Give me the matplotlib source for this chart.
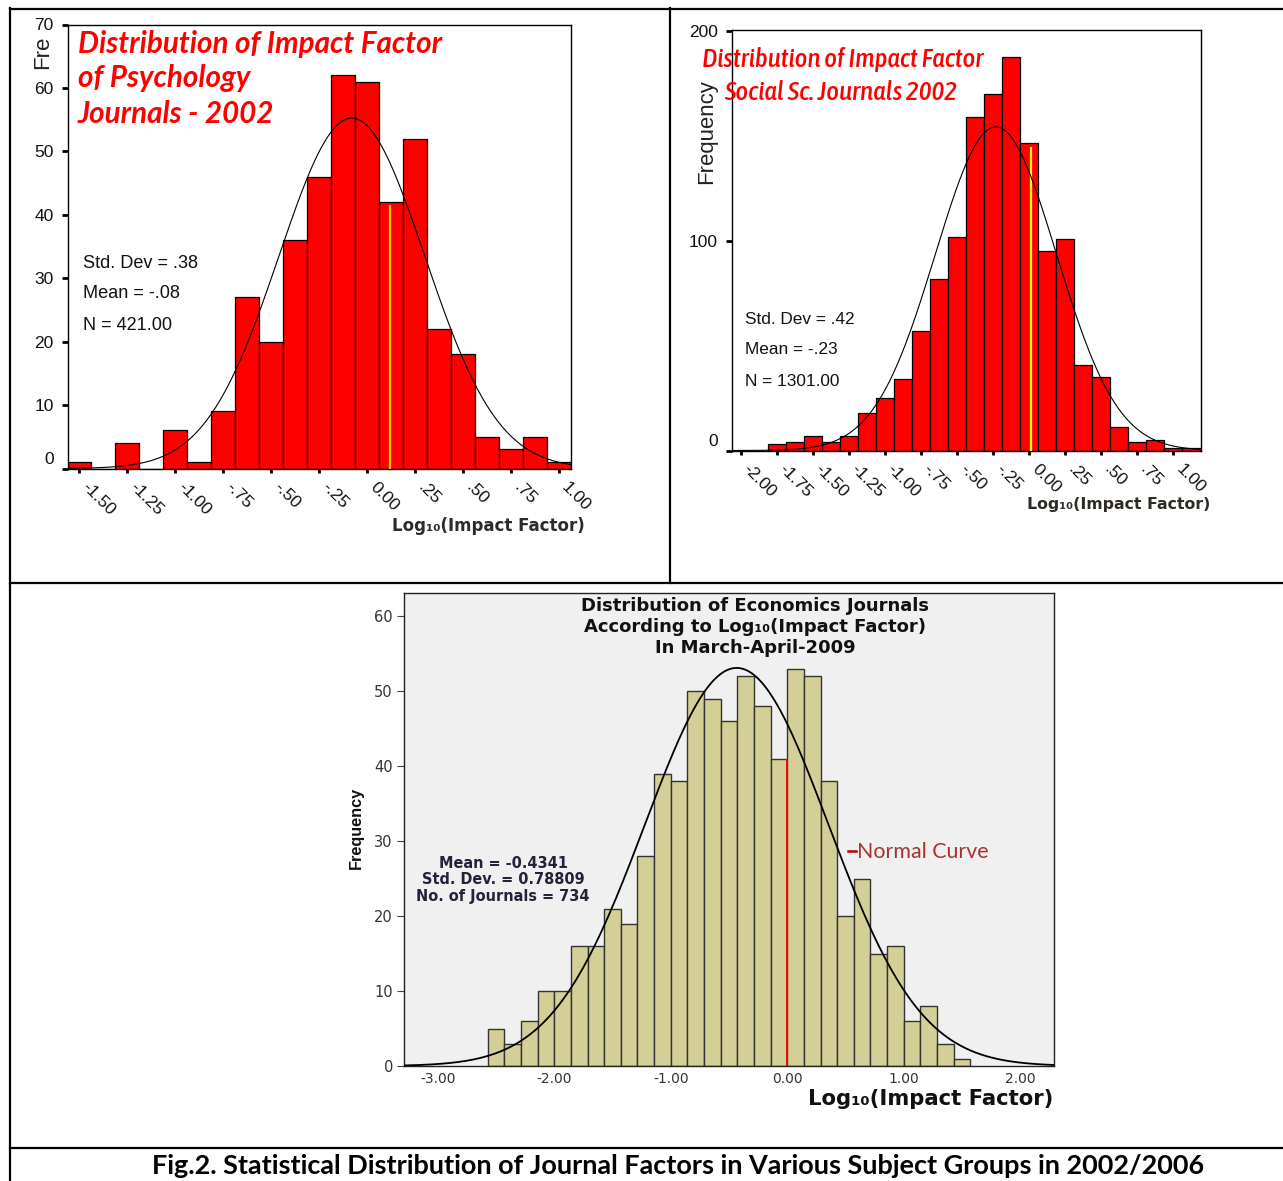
import numpy as np
import matplotlib
matplotlib.use('Agg')
import matplotlib.pyplot as plt
from matplotlib.lines import Line2D
import matplotlib.transforms as mtransforms
from matplotlib import font_manager as fm

W, H = 1283, 1181
DPI = 100

# ------------------------------------------------------------------ data
# Psychology journals 2002 (top left)
psych_first_center = -1.5
psych_bin_width = 0.125
psych_counts = [1, 0, 4, 0, 6, 1, 9, 27, 20, 36, 46, 62, 61, 42, 52, 22, 18, 5, 3, 5, 1]
psych_mean, psych_sd, psych_n = -0.08, 0.38, 421
psych_xticks = [-1.5, -1.25, -1.0, -0.75, -0.5, -0.25, 0.0, 0.25, 0.5, 0.75, 1.0]
psych_xticklabels = ["-1.50", "-1.25", "-1.00", "-.75", "-.50", "-.25", "0.00", ".25", ".50", ".75", "1.00"]
psych_yticks = [0, 10, 20, 30, 40, 50, 60, 70]
psych_marker_x, psych_marker_h = 0.12, 41.5
psych_title = ["Distribution of Impact Factor", "of Psychology", "Journals - 2002"]
psych_stats = ["Std. Dev = .38", "Mean = -.08", "N = 421.00"]

# Social science journals 2002 (top right)
soc_first_center = -2.0
soc_bin_width = 0.125
soc_counts = [0, 0, 3, 4, 7, 4, 7, 18, 25, 34, 57, 82, 102, 159, 170, 188, 147, 95, 101,
              41, 35, 11, 4, 5, 1, 1]
soc_mean, soc_sd, soc_n = -0.23, 0.42, 1301
soc_xticks = [-2.0, -1.75, -1.5, -1.25, -1.0, -0.75, -0.5, -0.25, 0.0, 0.25, 0.5, 0.75, 1.0]
soc_xticklabels = ["-2.00", "-1.75", "-1.50", "-1.25", "-1.00", "-.75", "-.50", "-.25",
                   "0.00", ".25", ".50", ".75", "1.00"]
soc_yticks = [0, 100, 200]
soc_marker_x, soc_marker_h = 0.01, 145
soc_title = ["Distribution of Impact Factor", "Social Sc. Journals 2002"]
soc_stats = ["Std. Dev = .42", "Mean = -.23", "N = 1301.00"]

# Economics journals 2009 (bottom)
econ_first_edge = -18 / 7
econ_bin_width = 1 / 7
econ_counts = [5, 3, 6, 10, 10, 16, 16, 21, 19, 28, 39, 38, 50, 49, 46, 52, 48, 41, 53, 52,
               38, 20, 25, 15, 16, 6, 8, 3, 1]
econ_mean, econ_sd, econ_n = -0.4341, 0.78809, 734
econ_xticks = [-3, -2, -1, 0, 1, 2]
econ_xticklabels = ["-3.00", "-2.00", "-1.00", "0.00", "1.00", "2.00"]
econ_yticks = [0, 10, 20, 30, 40, 50, 60]
econ_marker_x, econ_marker_h = 0.0, 41
econ_title = ["Distribution of Economics Journals", "According to Log\u2081\u2080(Impact Factor)",
              "In March-April-2009"]
econ_stats = ["Mean = -0.4341", "Std. Dev. = 0.78809", "No. of Journals = 734"]

xlabel_text = "Log\u2081\u2080(Impact Factor)"
caption = "Fig.2. Statistical Distribution of Journal Factors in Various Subject Groups in 2002/2006"

# ------------------------------------------------------------------ fonts
def pick_condensed_italic():
    best = None
    for f in fm.fontManager.ttflist:
        st = str(f.stretch).lower()
        nm = f.name.lower()
        cond = (st in ('condensed', 'extra-condensed', 'ultra-condensed', 'semi-condensed')
                or 'narrow' in nm or 'condensed' in nm)
        if not cond or f.style not in ('italic', 'oblique'):
            continue
        w = f.weight
        if isinstance(w, str):
            w = fm.weight_dict.get(w, 400)
        score = abs(w - 500)
        if 'semi' in st:
            score += 150
        if best is None or score < best[0]:
            best = (score, f.fname)
    return best[1] if best else None


cond_path = pick_condensed_italic()


def cond_props(size):
    if cond_path:
        return fm.FontProperties(fname=cond_path, size=size)
    return fm.FontProperties(family='Liberation Sans', style='italic', size=size)


# ------------------------------------------------------------------ helpers
fig = plt.figure(figsize=(W / DPI, H / DPI), dpi=DPI)
fig.patch.set_facecolor('white')
renderer = fig.canvas.get_renderer()


def rect(l, t, r, b):
    return [l / W, 1 - b / H, (r - l) / W, (b - t) / H]


def ftext(x, y, s, width=None, vertical=False, **kw):
    t = fig.text(x / W, 1 - y / H, s, **kw)
    if width:
        bb = t.get_window_extent(renderer)
        cur = bb.height if vertical else bb.width
        t.set_fontsize(t.get_fontsize() * width / cur)
    return t


def hline(y, x0, x1, lw=1.6):
    fig.add_artist(Line2D([x0 / W, x1 / W], [1 - y / H, 1 - y / H], color='black', lw=lw,
                          transform=fig.transFigure))


def vline(x, y0, y1, lw=1.6):
    fig.add_artist(Line2D([x / W, x / W], [1 - y0 / H, 1 - y1 / H], color='black', lw=lw,
                          transform=fig.transFigure))


def normal_curve(ax, mean, sd, n, bw, lw, color='black'):
    x0, x1 = ax.get_xlim()
    xs = np.linspace(x0, x1, 500)
    ys = n * bw * np.exp(-0.5 * ((xs - mean) / sd) ** 2) / (sd * np.sqrt(2 * np.pi))
    ax.plot(xs, ys, color=color, lw=lw, zorder=4)


def shift_label(lbl, dx_px, dy_px):
    lbl.set_transform(lbl.get_transform() +
                      mtransforms.ScaledTranslation(dx_px / DPI, dy_px / DPI, fig.dpi_scale_trans))


# ------------------------------------------------------------------ table lines
hline(8.5, 10, W)
vline(10, 8, H)
vline(670, 8, 583.5)
hline(583.5, 10, W)
hline(1147.5, 10, W)


def top_panel(rect_px, first_center, bw, counts, xticks, xticklabels, yticks, ylim,
              marker_x, marker_h, marker_color, mean, sd, n):
    ax = fig.add_axes(rect(*rect_px))
    centers = first_center + bw * np.arange(len(counts))
    ax.bar(centers, counts, width=bw, color='#ff0000', edgecolor='black', linewidth=0.9, zorder=2)
    ax.set_xlim(first_center - bw / 2, centers[-1] + bw / 2)
    ax.set_ylim(*ylim)
    normal_curve(ax, mean, sd, n, bw, lw=0.8)
    ax.vlines(marker_x, 0, marker_h, color=marker_color, lw=1.6, zorder=3)
    for s in ax.spines.values():
        s.set_linewidth(1.0)
    ax.set_yticks(yticks)
    ax.set_yticklabels([str(v) for v in yticks], fontfamily='Liberation Sans', fontsize=12.5,
                       color='#111111')
    ax.set_xticks(xticks)
    ax.set_xticklabels(xticklabels, fontfamily='Liberation Sans', fontsize=12.5, color='#111111')
    ax.tick_params(axis='y', direction='out', length=4, width=2, pad=6)
    ax.tick_params(axis='x', direction='out', length=3, width=2, pad=9)
    for lbl in ax.get_xticklabels():
        lbl.set_rotation(-45)
        lbl.set_rotation_mode('anchor')
        lbl.set_ha('left')
        lbl.set_va('center')
        shift_label(lbl, 5, 0)
    shift_label(ax.get_yticklabels()[0], 0, 11)
    return ax


# ------------------------------------------------------------------ top left
top_panel((67.5, 24.5, 571, 468.5), psych_first_center, psych_bin_width, psych_counts,
          psych_xticks, psych_xticklabels, psych_yticks, (0, 70),
          psych_marker_x, psych_marker_h, '#ffcc00', psych_mean, psych_sd, psych_n)

ftext(43, 52, "Fre", rotation=90, ha='center', va='center', fontfamily='Liberation Sans',
      fontsize=16, color='#222222')
t = ftext(78, 44, psych_title[0], width=364, ha='left', va='center', fontfamily='Lato',
          fontweight='bold', fontstyle='italic', fontsize=18.5, color='#ff0000')
title_size = t.get_fontsize()
for line, y in zip(psych_title[1:], [78, 114]):
    ftext(78, y, line, ha='left', va='center', fontfamily='Lato', fontweight='bold',
          fontstyle='italic', fontsize=title_size, color='#ff0000')
t = ftext(83, 263, psych_stats[0], width=115, ha='left', va='center',
          fontfamily='Liberation Sans', fontsize=12, color='#111111')
for line, y in zip(psych_stats[1:], [294, 326]):
    ftext(83, y, line, ha='left', va='center', fontfamily='Liberation Sans',
          fontsize=t.get_fontsize(), color='#111111')
ftext(392, 526, xlabel_text, width=192, ha='left', va='center', fontfamily='DejaVu Sans',
      fontweight='bold', fontsize=11, color='#2e2a25')

# ------------------------------------------------------------------ top right
top_panel((731.5, 30, 1200.5, 450.5), soc_first_center, soc_bin_width, soc_counts,
          soc_xticks, soc_xticklabels, soc_yticks, (0, 200.7),
          soc_marker_x, soc_marker_h, '#ffff00', soc_mean, soc_sd, soc_n)

ftext(707, 132, "Frequency", width=105, vertical=True, rotation=90, ha='center', va='center',
      fontfamily='Liberation Sans', fontsize=16, color='#222222')
t = ftext(702, 60, soc_title[0], width=281, ha='left', va='center',
          fontproperties=cond_props(18), color='#ff0000')
ftext(724, 92, soc_title[1], ha='left', va='center',
      fontproperties=cond_props(t.get_fontsize()), color='#ff0000')
t = ftext(745, 320, soc_stats[0], width=110, ha='left', va='center',
          fontfamily='Liberation Sans', fontsize=12, color='#111111')
for line, y in zip(soc_stats[1:], [349, 381]):
    ftext(745, y, line, ha='left', va='center', fontfamily='Liberation Sans',
          fontsize=t.get_fontsize(), color='#111111')
ftext(1027, 504, xlabel_text, width=182, ha='left', va='center', fontfamily='DejaVu Sans',
      fontweight='bold', fontsize=11, color='#2e2a25')

# ------------------------------------------------------------------ bottom
ax3 = fig.add_axes(rect(404, 593, 1054, 1066))
ax3.set_facecolor('#f0f0f0')
edges = econ_first_edge + econ_bin_width * np.arange(len(econ_counts))
ax3.bar(edges, econ_counts, width=econ_bin_width, align='edge', color='#d4cf96',
        edgecolor='#333333', linewidth=1.0, zorder=2)
ax3.set_xlim(-3.29, 2.29)
ax3.set_ylim(0, 63.07)
normal_curve(ax3, econ_mean, econ_sd, econ_n, econ_bin_width, lw=1.3)
ax3.vlines(econ_marker_x, 0, econ_marker_h, color='#ff0000', lw=1.4, zorder=3)
for s in ax3.spines.values():
    s.set_linewidth(1.0)
    s.set_color('#222222')
ax3.set_xticks(econ_xticks)
ax3.set_xticklabels(econ_xticklabels, fontfamily='DejaVu Sans', fontsize=10, color='#333333')
ax3.set_yticks(econ_yticks)
ax3.set_yticklabels([str(v) for v in econ_yticks], fontfamily='DejaVu Sans', fontsize=10.5,
                    color='#333333')
ax3.tick_params(axis='y', direction='out', length=5, width=0.8, pad=3, color='#444444')
ax3.tick_params(axis='x', direction='out', length=0, pad=4)

t = ftext(755, 606, econ_title[0], width=348, ha='center', va='center', fontfamily='DejaVu Sans',
          fontweight='bold', fontsize=11, color='#111111')
for line, y in zip(econ_title[1:], [627, 648]):
    ftext(755, y, line, ha='center', va='center', fontfamily='DejaVu Sans', fontweight='bold',
          fontsize=t.get_fontsize(), color='#111111')
t = ftext(503, 897, econ_stats[2], width=173, ha='center', va='center', fontfamily='DejaVu Sans',
          fontweight='bold', fontsize=9, color='#22223a')
for line, y in zip(econ_stats[:2], [863, 880]):
    ftext(503, y, line, ha='center', va='center', fontfamily='DejaVu Sans', fontweight='bold',
          fontsize=t.get_fontsize(), color='#22223a')
fig.add_artist(Line2D([848 / W, 856 / W], [1 - 851 / H, 1 - 851 / H], color='#c00000', lw=1.8,
                      transform=fig.transFigure))
ftext(857, 852, "Normal Curve", width=131, ha='left', va='center', fontfamily='Lato',
      fontsize=13, color='#a83232')
ftext(356, 828, "Frequency", width=82, vertical=True, rotation=90, ha='center', va='center',
      fontfamily='Liberation Sans', fontweight='bold', fontsize=11, color='#111111')
ftext(808, 1105, xlabel_text, width=244, ha='left', va='baseline', fontfamily='DejaVu Sans',
      fontweight='bold', fontsize=13, color='#111111')

# ------------------------------------------------------------------ caption
ftext(678.5, 1166, caption, width=1053, ha='center', va='center', fontfamily='Lato',
      fontweight='bold', fontsize=17, color='black')

fig.savefig('out.png', dpi=DPI, facecolor='white')
